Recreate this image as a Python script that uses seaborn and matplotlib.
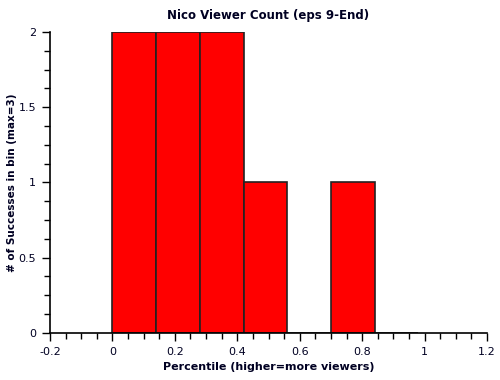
import numpy as np
import seaborn as sns
import matplotlib.pyplot as plt
from matplotlib.ticker import MultipleLocator, AutoMinorLocator

# histogram data (bins of width 0.14 starting at 0)
bin_edges = [0, 0.14, 0.28, 0.42, 0.56, 0.70, 0.84, 0.98]
bin_centers = [(a + b) / 2 for a, b in zip(bin_edges[:-1], bin_edges[1:])]
counts = [2, 2, 2, 1, 0, 1, 0]

sns.set_style('white')
plt.rcParams['font.family'] = ['DejaVu Sans']
plt.rcParams['text.color'] = '#000022'
plt.rcParams['axes.labelcolor'] = '#000022'
plt.rcParams['xtick.color'] = 'black'
plt.rcParams['ytick.color'] = 'black'
plt.rcParams['xtick.labelcolor'] = '#000022'
plt.rcParams['ytick.labelcolor'] = '#000022'

fig = plt.figure(figsize=(5, 3.8), dpi=100)
ax = fig.add_axes([0.1, 0.124, 0.874, 0.792])

sns.histplot(x=bin_centers, weights=counts, bins=bin_edges, ax=ax,
             color='#ff0000', alpha=1, edgecolor='#222222', linewidth=1.2)

ax.set_xlim(-0.2, 1.2)
ax.set_ylim(0, 2)
ax.xaxis.set_major_locator(MultipleLocator(0.2))
ax.xaxis.set_minor_locator(AutoMinorLocator(4))
ax.yaxis.set_major_locator(MultipleLocator(0.5))
ax.yaxis.set_minor_locator(AutoMinorLocator(4))
ax.set_xticks([-0.2, 0, 0.2, 0.4, 0.6, 0.8, 1, 1.2])
ax.set_xticklabels(['-0.2', '0', '0.2', '0.4', '0.6', '0.8', '1', '1.2'])
ax.set_yticks([0, 0.5, 1, 1.5, 2])
ax.set_yticklabels(['0', '0.5', '1', '1.5', '2'])

ax.tick_params(which='major', length=6, width=1, labelsize=8, direction='out',
               bottom=True, left=True, pad=4)
ax.tick_params(which='minor', length=4, width=1, direction='out',
               bottom=True, left=True)
for s in ['top', 'right']:
    ax.spines[s].set_visible(False)
for s in ['left', 'bottom']:
    ax.spines[s].set_color('black')
    ax.spines[s].set_linewidth(1.2)

ax.set_title('Nico Viewer Count (eps 9-End)', fontsize=8.5, fontweight='bold', pad=9)
ax.set_xlabel('Percentile (higher=more viewers)', fontsize=8, fontweight='bold', labelpad=4)
ax.set_ylabel('# of Successes in bin (max=3)', fontsize=7.5, fontweight='bold', va='center')
ax.yaxis.set_label_coords(-0.086, 0.5)

fig.savefig('out.png', dpi=100)
